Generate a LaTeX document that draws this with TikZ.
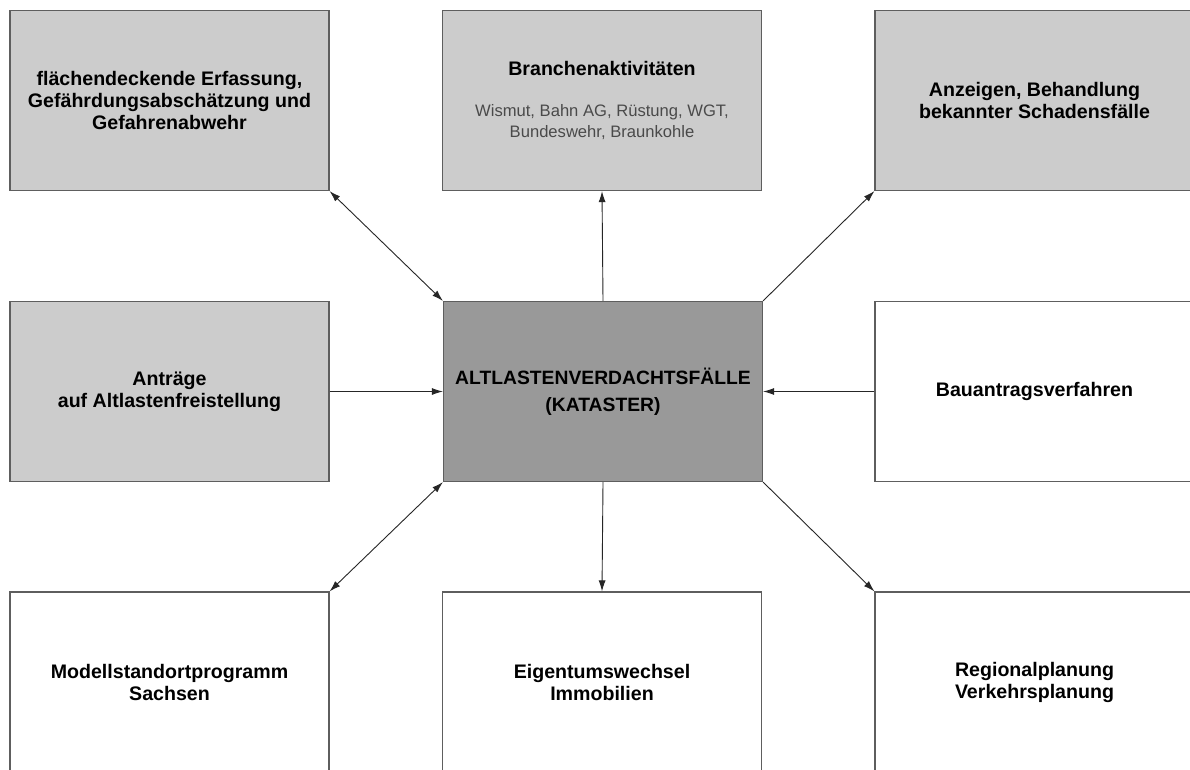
\documentclass[tikz,border=0pt]{standalone}
\usepackage{fontspec}
\setmainfont{Liberation Sans}
\usetikzlibrary{arrows.meta}

\definecolor{boxgrey}{HTML}{CCCCCC}
\definecolor{coregrey}{HTML}{999999}
\definecolor{rimgrey}{HTML}{5E5E5E}
\definecolor{subgrey}{HTML}{4A4A4A}

\newcommand{\sectorline}[1]{{\fontsize{16.6}{20}\selectfont\mdseries\color{subgrey}#1}}

\tikzset{
    fieldbox/.style={draw=rimgrey, line width=1.2pt, fill=white, minimum width=319pt, minimum height=180pt, inner sep=0pt, align=center, font=\fontsize{19.6}{22}\selectfont\bfseries},
    greybox/.style={fieldbox, fill=boxgrey},
    corebox/.style={fieldbox, fill=coregrey, font=\fontsize{19.3}{27}\selectfont\bfseries},
    link/.style={draw=black!85, line width=0.9pt, -{Latex[length=11pt,width=7pt]}},
    duallink/.style={link, {Latex[length=11pt,width=7pt]}-{Latex[length=11pt,width=7pt]}}
}

\begin{document}
\begin{tikzpicture}[x=1pt, y=-1pt]
        \useasboundingbox (0,0) rectangle (1190,769);
        \fill[white] (0,0) rectangle (1190,769);

        \node[greybox] (survey) at (169.5,100.5) {fl\"achendeckende Erfassung,\\Gef\"ahrdungsabsch\"atzung und\\Gefahrenabwehr};

        \node[greybox] (branches) at (602,100.5) {
            Branchenaktivit\"aten\\[19pt]
            \sectorline{Wismut, Bahn AG, R\"ustung, WGT,}\\[-1pt]
            \sectorline{Bundeswehr, Braunkohle}
        };

        \node[greybox] (reports) at (1034.5,100.5) {Anzeigen, Behandlung\\bekannter Schadensf\"alle};

        \node[greybox] (claims) at (169.5,391.5) {Antr\"age\\auf Altlastenfreistellung};

        \node[corebox] (cadastre) at (603,391.5) {ALTLASTENVERDACHTSF\"ALLE\\(KATASTER)};

        \node[fieldbox] (permits) at (1034.5,391.5) {Bauantragsverfahren};

        \node[fieldbox] (pilot) at (169.5,682) {Modellstandortprogramm\\Sachsen};

        \node[fieldbox] (property) at (602,682) {Eigentumswechsel\\Immobilien};

        \node[fieldbox] (planning) at (1034.5,682) {Regionalplanung\\Verkehrsplanung};

        \draw[duallink] (survey.south east) -- (cadastre.north west);
        \draw[link] (cadastre.north) -- (branches.south);
        \draw[link] (cadastre.north east) -- (reports.south west);
        \draw[link] (claims.east) -- (cadastre.west);
        \draw[link] (permits.west) -- (cadastre.east);
        \draw[duallink] (cadastre.south west) -- (pilot.north east);
        \draw[link] (cadastre.south) -- (property.north);
        \draw[link] (cadastre.south east) -- (planning.north west);
    \end{tikzpicture}
\end{document}
